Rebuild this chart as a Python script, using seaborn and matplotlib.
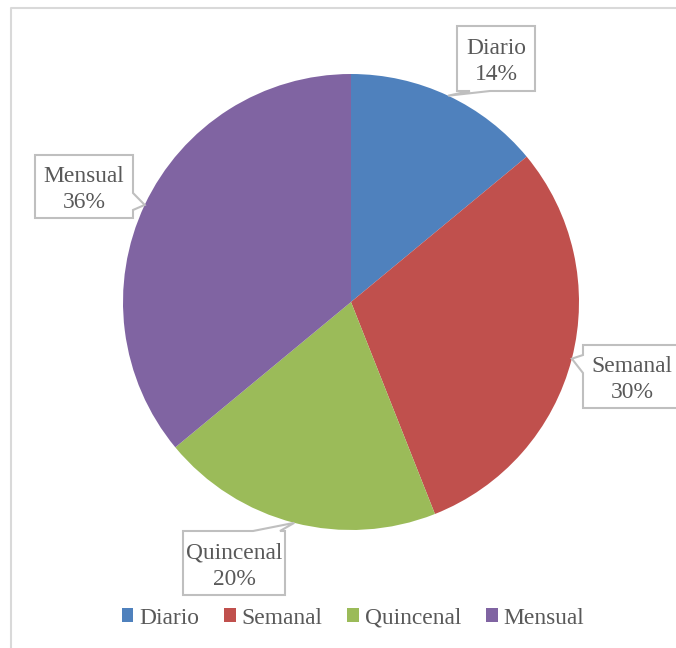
import numpy as np
import matplotlib
matplotlib.use("Agg")
import matplotlib.pyplot as plt
import seaborn as sns
from matplotlib.patches import Polygon, Rectangle
from matplotlib.lines import Line2D

categories = ["Diario", "Semanal", "Quincenal", "Mensual"]
values = [14, 30, 20, 36]
labels_pct = ["14%", "30%", "20%", "36%"]
colors = ["#4F81BD", "#C0504D", "#9BBB59", "#8064A2"]

sns.set_theme(style="white")
plt.rcParams['font.family'] = ['Liberation Serif', 'DejaVu Serif']

W, H = 676, 648
fig = plt.figure(figsize=(W / 100, H / 100), dpi=100)
fig.patch.set_facecolor("white")

cx, cy, R = 351, 302, 228
ax = fig.add_axes([(cx - R) / W, (H - cy - R) / H, 2 * R / W, 2 * R / H])
ax.set_zorder(1)
wedges, _ = ax.pie(values, colors=colors, startangle=90, counterclock=False,
                   radius=1.0, wedgeprops=dict(linewidth=0))
ax.set_xlim(-1, 1)
ax.set_ylim(-1, 1)
ax.set_aspect("equal")
ax.axis("off")

# overlay in pixel coordinates
ov = fig.add_axes([0, 0, 1, 1])
ov.set_zorder(2)
ov.set_xlim(0, W)
ov.set_ylim(H, 0)
ov.axis("off")
ov.patch.set_alpha(0)

# frame
ov.add_line(Line2D([11, 11, W + 5], [H + 5, 8, 8], color="#D9D9D9", lw=1.5, clip_on=False))

# callout boxes: (left, top, right, bottom, side, base offsets)
boxes = [
    (457, 26, 535, 91, "bottom", (13, 33)),
    (583, 345, 682, 408, "left", (10, 28)),
    (183, 531, 285, 595, "top", (70, 97)),
    (35, 155, 133, 218, "right", (38, 55)),
]

total = sum(values)
cum = 0
text_color = "#595959"
FS = 16.9
for i, (cat, v) in enumerate(zip(categories, values)):
    a0 = 90 - 360 * cum / total
    a1 = 90 - 360 * (cum + v) / total
    cum += v
    mid = np.deg2rad((a0 + a1) / 2)
    tx = cx + R * np.cos(mid)
    ty = cy - R * np.sin(mid)
    l, t, r, b, side, (o1, o2) = boxes[i]
    if side == "bottom":
        pts = [(l, t), (r, t), (r, b), (l + o2, b), (tx, ty), (l + o1, b), (l, b)]
    elif side == "left":
        pts = [(l, t), (r, t), (r, b), (l, b), (l, t + o2), (tx, ty), (l, t + o1)]
    elif side == "top":
        pts = [(l, t), (l + o1, t), (tx, ty), (l + o2, t), (r, t), (r, b), (l, b)]
    else:
        pts = [(l, t), (r, t), (r, t + o1), (tx, ty), (r, t + o2), (r, b), (l, b)]
    ov.add_patch(Polygon(pts, closed=True, facecolor="white", edgecolor="#BFBFBF",
                         lw=1.5, clip_on=False, joinstyle="miter"))
    label_x = (l + r) / 2
    if side == "left":
        label_x = 632
    ov.text(label_x, (t + b) / 2 + 3, f"{cat}\n{labels_pct[i]}", ha="center", va="center",
            fontsize=FS, color=text_color, linespacing=1.35)

handles = [Rectangle((0, 0), 1, 1, facecolor=c, edgecolor="none") for c in colors]
leg = fig.legend(handles, categories, loc="center", bbox_to_anchor=(353 / W, 1 - 618 / H),
                 ncol=4, frameon=False, fontsize=FS, handlelength=0.5, handleheight=0.5,
                 handletextpad=0.25, columnspacing=1.05, borderpad=0)
for txt in leg.get_texts():
    txt.set_color(text_color)

fig.savefig("out.png", dpi=100, facecolor="white")
